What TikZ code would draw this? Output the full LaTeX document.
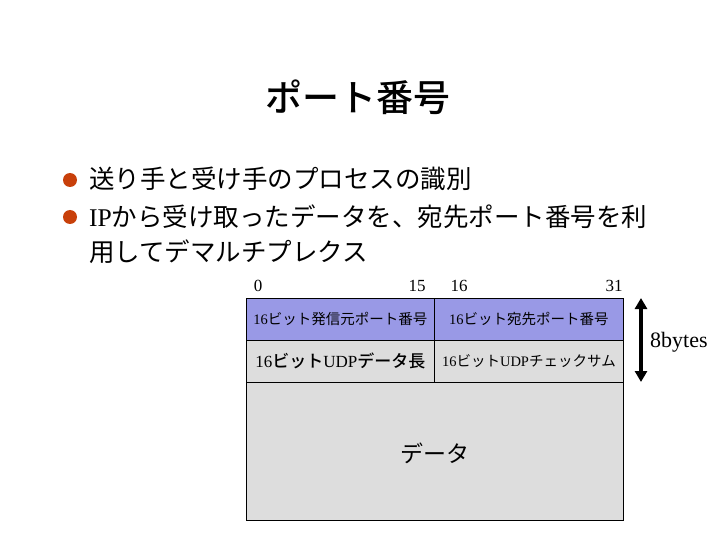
\documentclass[tikz,border=0pt]{standalone}
\usepackage{fontspec}
\setmainfont{Liberation Serif}
\newfontfamily\cjk{Noto Sans CJK JP}
\newfontfamily\cjkmed{Noto Sans CJK JP Medium}
\usetikzlibrary{arrows.meta}
\definecolor{bulletred}{RGB}{200,64,10}
\definecolor{hdrblue}{RGB}{153,153,230}
\definecolor{cellgray}{RGB}{221,221,221}
\tikzset{
  cellbox/.style={draw=black, line width=0.8pt, inner sep=0pt, anchor=north west},
  bitnum/.style={font=\fontsize{17}{17}\selectfont, anchor=base},
  bul/.style={circle, fill=bulletred, inner sep=0pt, minimum size=14pt},
  btext/.style={anchor=base west, inner sep=0pt, font=\fontsize{25.5}{25.5}\selectfont}
}
\begin{document}
\begin{tikzpicture}[x=1pt,y=-1pt]
\useasboundingbox (0,0) rectangle (720,540);
% title
\node[inner sep=0pt] (title) at (358,97) {\cjkmed\fontsize{37}{37}\selectfont ポート番号};
% bullets
\node[bul] (b1) at (70,180) {};
\node[btext] (t1) at (89,189) {\cjk 送り手と受け手のプロセスの識別};
\node[bul] (b2) at (70,217) {};
\node[btext] (t2) at (89,226) {IP\cjk から受け取ったデータを、宛先ポート番号を利};
\node[btext] (t3) at (89,261) {\cjk 用してデマルチプレクス};
% bit numbers
\node[bitnum] (n0) at (258,291) {0};
\node[bitnum] (n15) at (417,291) {15};
\node[bitnum] (n16) at (459,291) {16};
\node[bitnum] (n31) at (614,291) {31};
% cells
\node[cellbox, fill=hdrblue, minimum width=188pt, minimum height=42pt] (c1) at (246,298) {};
\node[cellbox, fill=hdrblue, minimum width=189pt, minimum height=42pt] (c2) at (434,298) {};
\node[cellbox, fill=cellgray, minimum width=188pt, minimum height=42pt] (c3) at (246,340) {};
\node[cellbox, fill=cellgray, minimum width=189pt, minimum height=42pt] (c4) at (434,340) {};
\node[cellbox, fill=cellgray, minimum width=377pt, minimum height=138pt] (c5) at (246,382) {};
\node at (c1.center) {\fontsize{14.5}{14.5}\selectfont 16\cjk ビット発信元ポート番号};
\node at (c2.center) {\fontsize{14.5}{14.5}\selectfont 16\cjk ビット宛先ポート番号};
\node at (c3.center) {\fontsize{17}{17}\selectfont 16\cjkmed ビット\normalfont UDP\cjkmed データ長};
\node at (c4.center) {\fontsize{14.5}{14.5}\selectfont 16\cjk ビット\normalfont UDP\cjk チェックサム};
\node at ([yshift=-2pt]c5.center) {\cjk\fontsize{23}{23}\selectfont データ};
% 8bytes arrow
\coordinate (atop) at (641,298);
\coordinate (abot) at (641,382);
\draw[line width=3.5pt, {Triangle[width=12pt,length=11pt]}-{Triangle[width=12pt,length=11pt]}] (atop) -- (abot);
\node[anchor=west, inner sep=0pt, font=\fontsize{22}{22}\selectfont] (lbl) at (650,342) {8bytes};
\end{tikzpicture}
\end{document}
